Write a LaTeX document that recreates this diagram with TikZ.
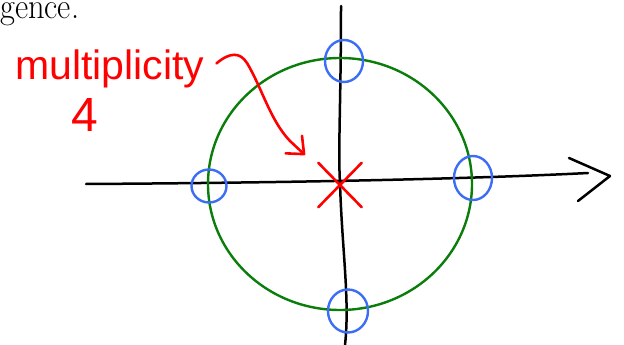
\documentclass[tikz,border=0pt]{standalone}
\usepackage{fontspec}
\newfontfamily\handfont{Liberation Sans}
\usetikzlibrary{arrows.meta,shapes.geometric,shapes.misc}
\definecolor{poleblue}{RGB}{60,110,245}
\definecolor{unitgreen}{RGB}{10,125,10}

\begin{document}
\begin{tikzpicture}[x=1pt, y=-1pt,
		axis/.style={draw=black, line width=2.5pt, line cap=round, line join=round},
		unitc/.style={ellipse, draw=unitgreen, line width=2.4pt, inner sep=0pt},
		pole/.style={ellipse, draw=poleblue, line width=2.4pt, inner sep=0pt},
		note/.style={text=red, font=\handfont\fontsize{41}{44}\selectfont, inner sep=0pt},
		arr/.style={draw=red, line width=2.6pt, line cap=round,
				-{Straight Barb[length=14pt,width=24pt,round]}}]

	\useasboundingbox (0,0) rectangle (624,345);

	% text cut off above
	\node[anchor=base west, inner sep=0pt, xscale=0.9,
		font=\fontsize{36}{40}\selectfont] (prev) at (0,19) {gence.};

	% axes
	\coordinate (xl) at (86,184);
	\coordinate (xr) at (588,173);
	\coordinate (tip) at (610,176);
	\coordinate (yt) at (341,6);
	\coordinate (yb) at (345,345);
	\draw[axis] (xl) .. controls (250,183) and (450,180) .. (xr);
	\draw[axis] ([shift={(-41,-18)}]tip) -- (tip) -- ([shift={(-32,25)}]tip);
	\draw[axis] (yt) .. controls (341,100) and (338,150) .. (340,183)
		.. controls (342,250) and (350,300) .. (yb);

	% unit circle and poles
	\node[unitc, minimum width=264pt, minimum height=252pt] (unit) at (340,184) {};
	\node[pole, minimum width=35pt, minimum height=33pt] (pl) at (209,186) {};
	\node[pole, minimum width=38pt, minimum height=44pt] (pr) at (473,178) {};
	\node[pole, minimum width=38pt, minimum height=42pt] (pt) at (344,61) {};
	\node[pole, minimum width=40pt, minimum height=43pt] (pb) at (348,311) {};

	% zero at the origin
	\node[cross out, draw=red, line width=2.6pt, line cap=round,
		minimum width=41pt, minimum height=42pt] (zero) at (340,185) {};

	% label
	\node[note, anchor=base west] (mult) at (15,80) {multiplicity};
	\node[note, anchor=base west, font=\handfont\fontsize{48}{50}\selectfont] (four) at (71,131) {4};
	\coordinate (hit) at (305,155);
	\draw[arr] ([shift={(12,-6)}]mult.east) .. controls (230,52) and (240,52) .. (247,63)
		.. controls (262,88) and (270,120) .. (290,141) -- (hit);

\end{tikzpicture}
\end{document}
